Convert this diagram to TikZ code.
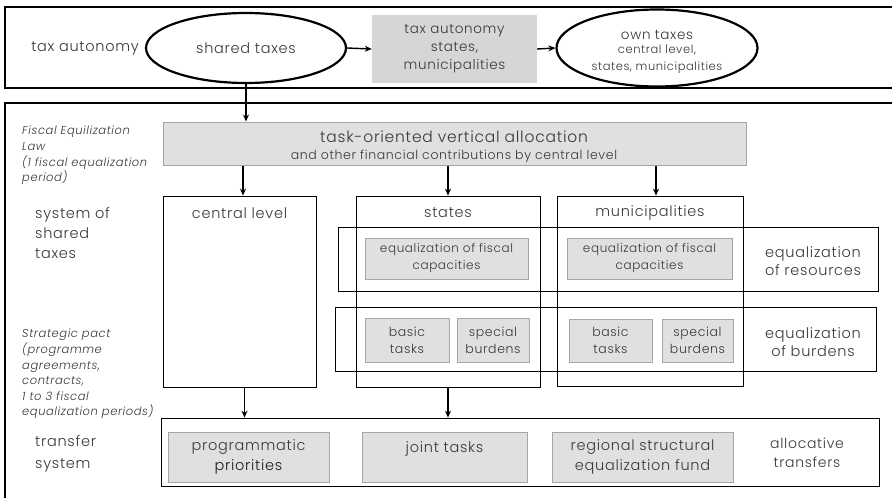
\documentclass[tikz,border=0pt]{standalone}
\usepackage{fontspec}
\setmainfont{Poppins}[UprightFont={* Light}, ItalicFont={* Light Italic}, LetterSpace=5]
\usetikzlibrary{arrows.meta,shapes.geometric}
\definecolor{txtc}{HTML}{383838}
\definecolor{gfill}{HTML}{E0E0E0}
\definecolor{gline}{HTML}{A6A6A6}
\definecolor{tfill}{HTML}{D6D6D6}
\newcommand\fsz[2]{\fontsize{#1}{#2}\selectfont}
% \rbox{name}{style}{x1}{y1}{x2}{y2}{text}
\newcommand\rbox[7]{\node[#2, minimum width={#5-#3}, minimum height={#6-#4}] (#1) at ({(#3+#5)/2},{(#4+#6)/2}) {#7};}
\tikzset{
  frame/.style={draw=black, line width=2.2pt, inner sep=0pt},
  thinbox/.style={draw=black, line width=0.8pt, inner sep=0pt},
  graybox/.style={draw=gline, fill=gfill, line width=1pt, inner sep=0pt, text=txtc, align=center},
  oval/.style={ellipse, draw=black, line width=2.2pt, inner sep=0pt, text=txtc, align=center},
  lbl/.style={text=txtc, inner sep=0pt, align=center},
  side/.style={text=txtc, inner sep=0pt, align=left, anchor=west},
  arr/.style={-{Stealth[length=7pt,width=6pt]}, line width=1.4pt, black},
}
\begin{document}
\begin{tikzpicture}[x=1pt,y=-1pt]
\useasboundingbox (0,0) rectangle (892,498);
\fill[white] (0,0) rectangle (892,498);
% frames
\rbox{topframe}{frame}{5}{7}{905}{88}{}
\rbox{botframe}{frame}{5}{103}{905}{510}{}
% top row
\node[lbl, font=\fsz{14.5}{16}] (taxautl) at (85,48) {tax autonomy};
\node[oval, minimum width=200, minimum height=70, font=\fsz{14.5}{16}] (shared) at (246,48) {shared taxes};
\rbox{taxaut}{fill=tfill, inner sep=0pt, text=txtc, align=center, font=\fsz{13.5}{18}}{372}{15}{537}{83}{tax autonomy\\states,\\municipalities}
\node[oval, minimum width=201, minimum height=77] (own) at (657,48) {};
\node[lbl, font=\fsz{13.5}{16}] (ownt) at (657,35) {own taxes};
\node[lbl, font=\fsz{11.5}{17}] (ownt2) at (657,59) {central level,\\states, municipalities};
\draw[arr] (shared.east) -- (taxaut.west);
\draw[arr] (taxaut.east) -- (own.west);
% task box
\rbox{task}{graybox}{163}{122}{746}{165}{}
\node[lbl, font=\fsz{15.5}{18}] (taskt1) at (454,137) {task-oriented vertical allocation};
\node[lbl, font=\fsz{12.5}{14}] (taskt2) at (454,156) {and other financial contributions by central level};
\draw[arr] (shared.south) -- (shared.south |- task.north);
% left texts
\node[side, font=\fsz{11.5}{15.7}\itshape] (fel) at (22,155.5) {Fiscal Equilization\\Law\\(1 fiscal equalization\\period)};
\node[side, font=\fsz{14.5}{20}] (sst) at (35,233) {system of\\shared\\taxes};
\node[side, font=\fsz{11.5}{15.6}\itshape] (sp) at (22,374) {Strategic pact\\(programme\\agreements,\\contracts,\\1 to 3 fiscal\\equalization periods)};
\node[side, font=\fsz{14.5}{22}] (ts) at (35,454) {transfer\\system};
% level boxes
\rbox{central}{thinbox}{163}{196}{316}{387}{}
\rbox{states}{thinbox}{356}{196}{540}{387}{}
\rbox{munis}{thinbox}{557}{196}{743}{386}{}
\node[lbl, font=\fsz{14.5}{16}] (centralt) at (239.5,213) {central level};
\node[lbl, font=\fsz{14.5}{16}] (statest) at (448,213) {states};
\node[lbl, font=\fsz{14.5}{16}] (munist) at (650,213) {municipalities};
\draw[arr] ([xshift=3.5pt]task.south -| central.north) -- ([xshift=3.5pt]central.north);
\draw[arr] (task.south -| states.north) -- (states.north);
\draw[arr] ([xshift=6pt]task.south -| munis.north) -- ([xshift=6pt]munis.north);
% bands
\rbox{resband}{thinbox}{338}{227}{878}{291}{}
\rbox{burband}{thinbox}{335}{307}{876}{371}{}
\rbox{trband}{thinbox}{161}{418}{879}{486}{}
\node[lbl, font=\fsz{14.5}{18}] (rest) at (813,261) {equalization\\of resources};
\node[lbl, font=\fsz{14.5}{18}] (burt) at (813,342) {equalization\\of burdens};
\node[lbl, font=\fsz{14}{19}] (allt) at (807,453) {allocative\\transfers};
% inner gray boxes
\rbox{efcs}{graybox, font=\fsz{12}{17}}{365}{238}{528}{279}{equalization of fiscal\\capacities}
\rbox{efcm}{graybox, font=\fsz{12}{17}}{567}{238}{732}{279}{equalization of fiscal\\capacities}
\rbox{bts}{graybox, font=\fsz{12.5}{17}}{365}{318}{449}{362}{basic\\tasks}
\rbox{sbs}{graybox, font=\fsz{12.5}{17}}{457}{318}{529}{362}{special\\burdens}
\rbox{btm}{graybox, font=\fsz{12.5}{17}}{569}{319}{652}{362}{basic\\tasks}
\rbox{sbm}{graybox, font=\fsz{12.5}{17}}{662}{319}{733}{362}{special\\burdens}
\rbox{prog}{graybox, font=\fsz{14.5}{20}}{168}{432}{329}{482}{programmatic\\\textcolor{black!90}{priorities}}
\rbox{joint}{graybox, font=\fsz{14.5}{20}}{362}{432}{527}{482}{joint tasks\\\mbox{}}
\rbox{regional}{graybox, font=\fsz{14.5}{20}}{552}{432}{733}{482}{regional structural\\equalization fund}
\draw[arr] ([xshift=5pt]central.south) -- ([xshift=5pt]central.south |- trband.north);
\draw[arr] (states.south) -- (states.south |- trband.north);
\end{tikzpicture}
\end{document}
